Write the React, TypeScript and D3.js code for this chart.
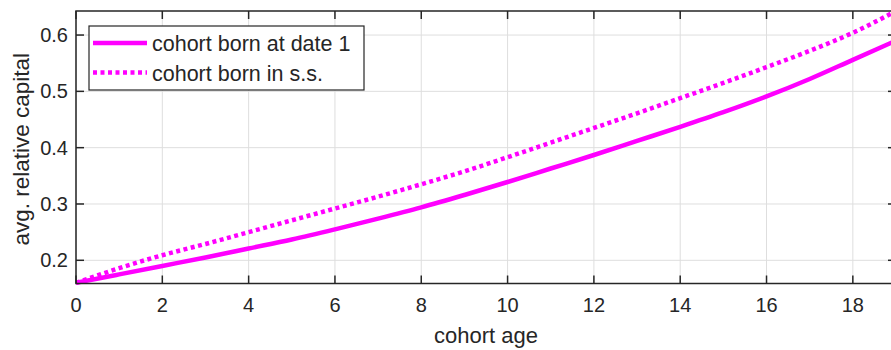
import React from "react";
import * as d3 from "d3";

const ages = [0, 1, 2, 3, 4, 5, 6, 7, 8, 9, 10, 11, 12, 13, 14, 15, 16, 17, 18, 19];
const bornDate1 = [0.160, 0.175, 0.190, 0.205, 0.221, 0.237, 0.255, 0.274, 0.294, 0.316, 0.339, 0.363, 0.387, 0.412, 0.437, 0.463, 0.491, 0.522, 0.556, 0.590];
const bornSS = [0.160, 0.186, 0.209, 0.229, 0.250, 0.271, 0.292, 0.313, 0.335, 0.358, 0.383, 0.409, 0.435, 0.461, 0.488, 0.515, 0.543, 0.572, 0.604, 0.6427];
const xTicks = [0, 2, 4, 6, 8, 10, 12, 14, 16, 18];
const yTicks = [0.2, 0.3, 0.4, 0.5, 0.6];
const seriesNames = ["cohort born at date 1", "cohort born in s.s."];

const W = 891;
const H = 350;
const L = 76, T = 11, R = 896, B = 283.5;
const AX = "#262626";
const GRID = "#dedede";
const MAG = "#ff00ff";
const FONT = "'Liberation Sans', Arial, Helvetica, sans-serif";
const TICK = 8;

export default function App() {
  const x = d3.scaleLinear().domain([0, 19]).range([L, R]);
  const y = d3.scaleLinear().domain([0.1588, 0.6427]).range([B, T]);
  const line = d3
    .line<number>()
    .x((_, i) => x(ages[i]))
    .y((d) => y(d))
    .curve(d3.curveMonotoneX);

  return (
    <svg
      width={W}
      height={H}
      style={{ position: "absolute", left: 0, top: 0, background: "#fff" }}
      fontFamily={FONT}
    >
      <defs>
        <clipPath id="plotclip">
          <rect x={L} y={T - 3} width={R - L} height={B - T + 6} />
        </clipPath>
      </defs>
      {/* grid */}
      {xTicks.map((t) => (
        <line key={"gx" + t} x1={x(t)} x2={x(t)} y1={T} y2={B} stroke={GRID} strokeWidth={1} />
      ))}
      {yTicks.map((t) => (
        <line key={"gy" + t} x1={L} x2={R} y1={y(t)} y2={y(t)} stroke={GRID} strokeWidth={1} />
      ))}
      {/* series */}
      <g clipPath="url(#plotclip)">
        <path d={line(bornDate1) || ""} fill="none" stroke={MAG} strokeWidth={4.5} />
        <path d={line(bornSS) || ""} fill="none" stroke={MAG} strokeWidth={4.5} strokeDasharray="4 3.5" />
      </g>
      {/* axes box */}
      <rect x={L} y={T} width={R - L} height={B - T} fill="none" stroke={AX} strokeWidth={1.5} />
      {/* ticks */}
      {xTicks.map((t) => (
        <g key={"tx" + t}>
          <line x1={x(t)} x2={x(t)} y1={B} y2={B - TICK} stroke={AX} strokeWidth={1.5} />
          <line x1={x(t)} x2={x(t)} y1={T} y2={T + TICK} stroke={AX} strokeWidth={1.5} />
          <text x={x(t)} y={312} textAnchor="middle" fontSize={20} fill={AX}>
            {t}
          </text>
        </g>
      ))}
      {yTicks.map((t) => (
        <g key={"ty" + t}>
          <line x1={L} x2={L + TICK} y1={y(t)} y2={y(t)} stroke={AX} strokeWidth={1.5} />
          <line x1={R} x2={R - TICK} y1={y(t)} y2={y(t)} stroke={AX} strokeWidth={1.5} />
          <text x={68} y={y(t) + 7} textAnchor="end" fontSize={20} fill={AX}>
            {t.toFixed(1)}
          </text>
        </g>
      ))}
      {/* axis labels */}
      <text x={(L + R) / 2} y={343} textAnchor="middle" fontSize={22} fill={AX}>
        cohort age
      </text>
      <text
        transform={`translate(29, ${(T + B) / 2 + 2}) rotate(-90)`}
        textAnchor="middle"
        fontSize={22.5}
        fill={AX}
      >
        avg. relative capital
      </text>
      {/* legend */}
      <rect x={89} y={26} width={275} height={64} fill="#fff" stroke={AX} strokeWidth={1.2} />
      <line x1={93} x2={147} y1={43} y2={43} stroke={MAG} strokeWidth={4.5} />
      <line x1={93} x2={147} y1={72.5} y2={72.5} stroke={MAG} strokeWidth={4.5} strokeDasharray="4 3.5" />
      <text x={152} y={51} fontSize={21.5} fill={AX}>
        {seriesNames[0]}
      </text>
      <text x={152} y={81} fontSize={21.5} fill={AX}>
        {seriesNames[1]}
      </text>
    </svg>
  );
}
